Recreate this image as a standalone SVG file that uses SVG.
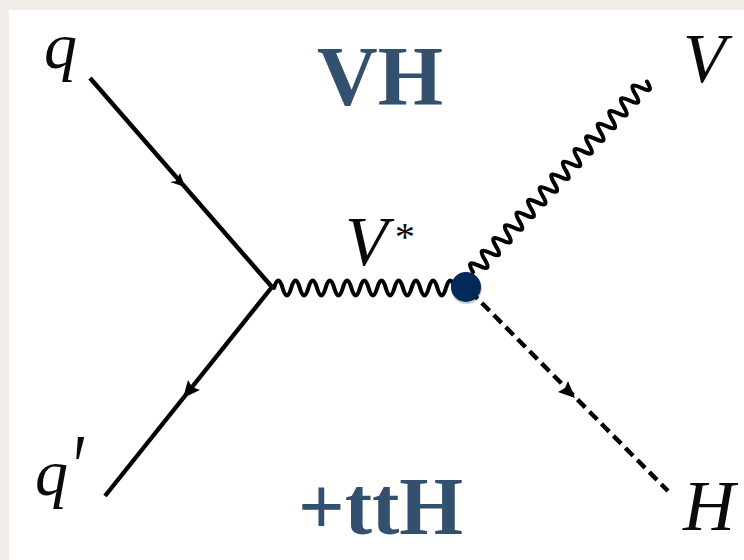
<svg xmlns="http://www.w3.org/2000/svg" width="744" height="560" viewBox="0 0 744 560">
<style>
.m{font-family:"Liberation Serif","Times New Roman",serif;font-style:italic;fill:#0a0a0a}
.t{font-family:"Liberation Serif","Times New Roman",serif;font-weight:bold;fill:#34506f}
.l{fill:none;stroke:#000;stroke-width:4.4;stroke-linecap:butt}
.w{fill:none;stroke:#000;stroke-width:4;stroke-linecap:round;stroke-linejoin:round}
</style>
<rect width="744" height="560" fill="#f0eee7"/>
<rect x="9" y="10" width="735" height="550" fill="#fff"/>
<g id="connectors">
<path class="l" d="M90 78L272 287"/>
<path class="l" d="M105 496L272 287"/>
<path class="w" d="M274 288q4.300 -15 8.600 0t8.600 0t8.600 0t8.600 0t8.600 0t8.600 0t8.600 0t8.600 0t8.600 0t8.600 0t8.600 0t8.600 0t8.600 0t8.600 0t8.600 0t8.600 0t8.600 0t8.600 0t8.600 0t8.600 0t8.600 0"/>
<path class="w" transform="translate(473 272) rotate(-47.6)" d="M0 0q4.300 -15 8.600 0t8.600 0t8.600 0t8.600 0t8.600 0t8.600 0t8.600 0t8.600 0t8.600 0t8.600 0t8.600 0t8.600 0t8.600 0t8.600 0t8.600 0t8.600 0t8.600 0t8.600 0t8.600 0t8.600 0t8.600 0t8.600 0t8.600 0t8.600 0t8.600 0t8.600 0t8.600 0t8.600 0t8.600 0t8.600 0"/>
<path class="l" stroke-dasharray="11 6" stroke-dashoffset="3" d="M472 293L668 491"/>
<polygon points="185,187 180,173 176,181 170,182"/>
<polygon points="183,398 188,380 192,387 200,390"/>
<polygon points="575,398 568,381 565,388 558,392"/>
</g>
<g id="vertex">
<circle cx="466.5" cy="288.500" r="15.500" fill="#000" opacity=".2"/>
<circle cx="466" cy="287" r="15" fill="#012a5b"/>
</g>
<g id="label-q"><text class="m" x="44" y="68" font-size="66">q</text></g>
<g id="label-qprime"><text class="m" x="35" y="495" font-size="66">q</text><text class="m" transform="translate(69 498) scale(1 1.4)" font-size="66">′</text></g>
<g id="label-vstar"><text class="m" x="345" y="265" font-size="70">V</text><text class="m" x="393" y="250" font-size="40" font-style="normal">*</text></g>
<g id="label-v"><text class="m" x="683" y="82" font-size="70">V</text></g>
<g id="label-h"><text class="m" x="683" y="530" font-size="72">H</text></g>
<g id="title-vh"><text class="t" x="317" y="105" font-size="84">VH</text></g>
<g id="title-tth"><text class="t" x="298" y="534" font-size="82">+ttH</text></g>
</svg>
